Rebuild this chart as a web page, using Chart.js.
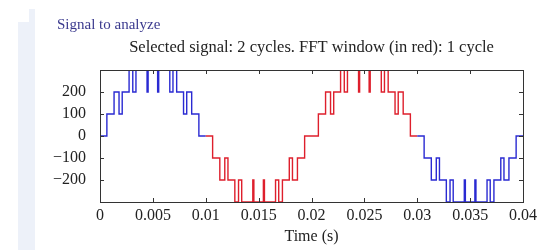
<!DOCTYPE html>
<html>
<head>
<meta charset="utf-8">
<script src="https://cdn.jsdelivr.net/npm/chart.js@4.4.0/dist/chart.umd.min.js"></script>
<style>
    body { margin: 0; background: #ffffff; }
    #wrap { position: relative; width: 555px; height: 250px; }
    .band { position: absolute; background: #edf1f9; }
    canvas { position: absolute; left: 0; top: 0; }
</style>
</head>
<body>
<div id="wrap">
    <div class="band" style="left:18px; top:22px; width:17px; height:228px;"></div>
    <div class="band" style="left:29px; top:9px; width:6px; height:13px;"></div>
    <canvas id="chart1" width="555" height="250"></canvas>
</div>
<script>
// instantes de cambio de nivel (s) y nivel que empieza en cada instante
var tiempos = [
    0, 0.00065, 0.00133, 0.0018, 0.0021, 0.00275, 0.0031, 0.0034, 0.00445, 0.00455,
    0.00545, 0.00555, 0.0066, 0.0069, 0.00725, 0.0079, 0.0082, 0.00867, 0.00935,
    0.01, 0.01065, 0.01133, 0.0118, 0.0121, 0.01275, 0.0131, 0.0134, 0.01445, 0.01455,
    0.01545, 0.01555, 0.0166, 0.0169, 0.01725, 0.0179, 0.0182, 0.01867, 0.01935,
    0.02, 0.02065, 0.02133, 0.0218, 0.0221, 0.02275, 0.0231, 0.0234, 0.02445, 0.02455,
    0.02545, 0.02555, 0.0266, 0.0269, 0.02725, 0.0279, 0.0282, 0.02867, 0.02935,
    0.03, 0.03065, 0.03133, 0.0318, 0.0321, 0.03275, 0.0331, 0.0334, 0.03445, 0.03455,
    0.03545, 0.03555, 0.0366, 0.0369, 0.03725, 0.0379, 0.0382, 0.03867, 0.03935,
    0.04
];
var niveles = [
    0, 100, 200, 100, 200, 300, 200, 300, 200, 300,
    200, 300, 200, 300, 200, 100, 200, 100, 0,
    0, -100, -200, -100, -200, -300, -200, -300, -200, -300,
    -200, -300, -200, -300, -200, -100, -200, -100, 0,
    0, 100, 200, 100, 200, 300, 200, 300, 200, 300,
    200, 300, 200, 300, 200, 100, 200, 100, 0,
    0, -100, -200, -100, -200, -300, -200, -300, -200, -300,
    -200, -300, -200, -300, -200, -100, -200, -100, 0,
    0
];
var ventanaFFT = [0.01, 0.03];
var ticksX = [0, 0.005, 0.01, 0.015, 0.02, 0.025, 0.03, 0.035, 0.04];
var ticksY = [-300, -200, -100, 0, 100, 200, 300];

var puntos = tiempos.map(function (t, i) {
    return { x: t, y: niveles[i] };
});

var azul = '#2a2ad2';
var rojo = '#de1f2c';
var fuente = "'Liberation Serif', 'DejaVu Serif', serif";

// marco con marcas hacia dentro, estilo matlab
var marco = {
    id: 'marco',
    afterDraw: function (chart) {
        var ctx = chart.ctx;
        var a = chart.chartArea;
        var sx = chart.scales.x;
        var sy = chart.scales.y;
        ctx.save();
        ctx.strokeStyle = '#333333';
        ctx.lineWidth = 1;
        ctx.beginPath();
        ticksX.forEach(function (v) {
            var px = Math.round(sx.getPixelForValue(v)) + 0.5;
            ctx.moveTo(px, a.bottom); ctx.lineTo(px, a.bottom - 4);
            ctx.moveTo(px, a.top); ctx.lineTo(px, a.top + 4);
        });
        ticksY.forEach(function (v) {
            var py = Math.round(sy.getPixelForValue(v)) + 0.5;
            ctx.moveTo(a.left, py); ctx.lineTo(a.left + 4, py);
            ctx.moveTo(a.right, py); ctx.lineTo(a.right - 4, py);
        });
        ctx.stroke();
        ctx.strokeRect(Math.round(a.left) + 0.5, Math.round(a.top) + 0.5,
            Math.round(a.right - a.left), Math.round(a.bottom - a.top));

        ctx.fillStyle = '#222222';
        ctx.font = '16.5px ' + fuente;
        ctx.textAlign = 'center';
        ctx.textBaseline = 'alphabetic';
        ctx.fillText('Selected signal: 2 cycles. FFT window (in red): 1 cycle', (a.left + a.right) / 2, 52);

        ctx.fillStyle = '#3b3a8e';
        ctx.font = '15px ' + fuente;
        ctx.textAlign = 'left';
        ctx.fillText('Signal to analyze', 57, 29);
        ctx.restore();
    }
};

var canvas = document.getElementById('chart1').getContext('2d');

window.grafica = new Chart(canvas, {
    type: 'line',
    data: {
        datasets: [{
            data: puntos,
            stepped: 'before',
            borderColor: azul,
            borderWidth: 1.4,
            pointRadius: 0,
            fill: false,
            segment: {
                borderColor: function (c) {
                    var x = c.p0.parsed.x;
                    return (x >= ventanaFFT[0] && x < ventanaFFT[1]) ? rojo : azul;
                }
            }
        }]
    },
    plugins: [marco],
    options: {
        responsive: false,
        animation: false,
        layout: {
            padding: { left: 0, right: 32, top: 70, bottom: 0 }
        },
        plugins: {
            legend: { display: false },
            tooltip: { enabled: false }
        },
        scales: {
            x: {
                type: 'linear',
                min: 0,
                max: 0.04,
                afterFit: function (s) { s.height = 48; },
                afterBuildTicks: function (s) {
                    s.ticks = ticksX.map(function (v) { return { value: v }; });
                },
                ticks: {
                    color: '#222222',
                    font: { family: fuente, size: 16 },
                    padding: -4,
                    autoSkip: false,
                    maxRotation: 0,
                    callback: function (v) { return String(Number(v.toFixed(3))); }
                },
                grid: { display: false },
                border: { display: false },
                title: {
                    display: true,
                    text: 'Time (s)',
                    color: '#222222',
                    font: { family: fuente, size: 16 },
                    padding: { top: 0, bottom: 4 }
                }
            },
            y: {
                min: -300,
                max: 300,
                afterFit: function (s) { s.width = 100; },
                afterBuildTicks: function (s) {
                    s.ticks = ticksY.map(function (v) { return { value: v }; });
                },
                ticks: {
                    color: '#222222',
                    font: { family: fuente, size: 16 },
                    padding: 6,
                    autoSkip: false,
                    callback: function (v) {
                        if (Math.abs(v) >= 300) return '';
                        return v < 0 ? '\u2212' + Math.abs(v) : String(v);
                    }
                },
                grid: { display: false },
                border: { display: false }
            }
        }
    }
});
</script>
</body>
</html>
